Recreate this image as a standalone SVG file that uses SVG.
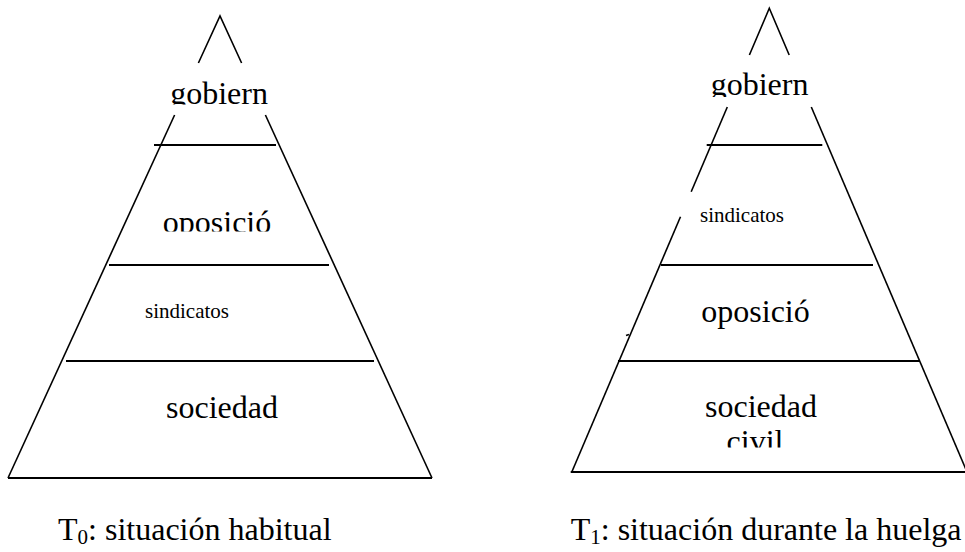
<svg xmlns="http://www.w3.org/2000/svg" width="965" height="552" viewBox="0 0 965 552">
<style>
.ln{stroke:#000;stroke-width:1.6;fill:none;stroke-linecap:butt}
.hl{stroke:#000;stroke-width:1.8;fill:none}
.t{font-family:"Liberation Serif","Times New Roman",serif;fill:#000}
.big{font-size:32px}
.sm{font-size:21px}
</style>
<defs>
<clipPath id="c-gob0"><rect x="150" y="60" width="140" height="44.5"/></clipPath>
<clipPath id="c-opo0"><rect x="140" y="190" width="160" height="41.5"/></clipPath>
<clipPath id="c-gob1"><rect x="690" y="55" width="140" height="42"/></clipPath>
<clipPath id="c-civ1"><rect x="690" y="420" width="140" height="27.5"/></clipPath>
</defs>
<rect width="965" height="552" fill="#fff"/>

<g id="pyramid-t0">
  <g id="t0-outline">
    <path class="ln" d="M198.4,63 L220,16 L241.6,63"/>
    <path class="ln" d="M174.6,115 L8,478"/>
    <path class="ln" d="M265.4,115 L432,478"/>
    <line class="hl" x1="154" y1="145" x2="276" y2="145"/>
    <line class="hl" x1="109" y1="265" x2="329" y2="265"/>
    <line class="hl" x1="66" y1="361" x2="374" y2="361"/>
    <line class="hl" x1="8" y1="478" x2="432" y2="478"/>
  </g>
  <g id="t0-gobierno"><text class="t big" x="219" y="104" text-anchor="middle" clip-path="url(#c-gob0)">gobiern</text></g>
  <g id="t0-oposicion"><text class="t big" x="217" y="233" text-anchor="middle" clip-path="url(#c-opo0)">oposició</text></g>
  <g id="t0-sindicatos"><text class="t sm" x="145" y="318">sindicatos</text></g>
  <g id="t0-sociedad"><text class="t big" x="222" y="418" text-anchor="middle">sociedad</text></g>
  <g id="t0-caption"><text class="t big" x="58" y="540">T<tspan font-size="21" dy="4">0</tspan><tspan dy="-4">: situación habitual</tspan></text></g>
</g>

<g id="pyramid-t1">
  <g id="t1-outline">
    <path class="ln" d="M749.4,55 L769.3,8.3 L789.2,55"/>
    <path class="ln" d="M727.3,107 L691.2,191.7"/>
    <path class="ln" d="M680.5,216.7 L571.8,472"/>
    <path class="ln" d="M811.3,107 L967,472"/>
    <line class="ln" x1="626" y1="335.5" x2="629" y2="334.5" stroke-width="1"/>
    <line class="hl" x1="706.7" y1="145" x2="822.3" y2="145"/>
    <line class="hl" x1="661" y1="265" x2="873" y2="265"/>
    <line class="hl" x1="618" y1="361" x2="920" y2="361"/>
    <line class="hl" x1="570.7" y1="472" x2="965" y2="472"/>
  </g>
  <g id="t1-gobierno"><text class="t big" x="759.5" y="95" text-anchor="middle" clip-path="url(#c-gob1)">gobiern</text></g>
  <g id="t1-sindicatos"><text class="t sm" x="700" y="222">sindicatos</text></g>
  <g id="t1-oposicion"><text class="t big" x="755.5" y="322" text-anchor="middle">oposició</text></g>
  <g id="t1-sociedad"><text class="t big" x="761" y="417" text-anchor="middle">sociedad</text><text class="t big" x="755" y="452" text-anchor="middle" clip-path="url(#c-civ1)">civil</text></g>
  <g id="t1-caption"><text class="t big" x="570.7" y="540">T<tspan font-size="21" dy="4">1</tspan><tspan dy="-4">: situación durante la huelga</tspan></text></g>
</g>
<g id="connectors"/>
</svg>
